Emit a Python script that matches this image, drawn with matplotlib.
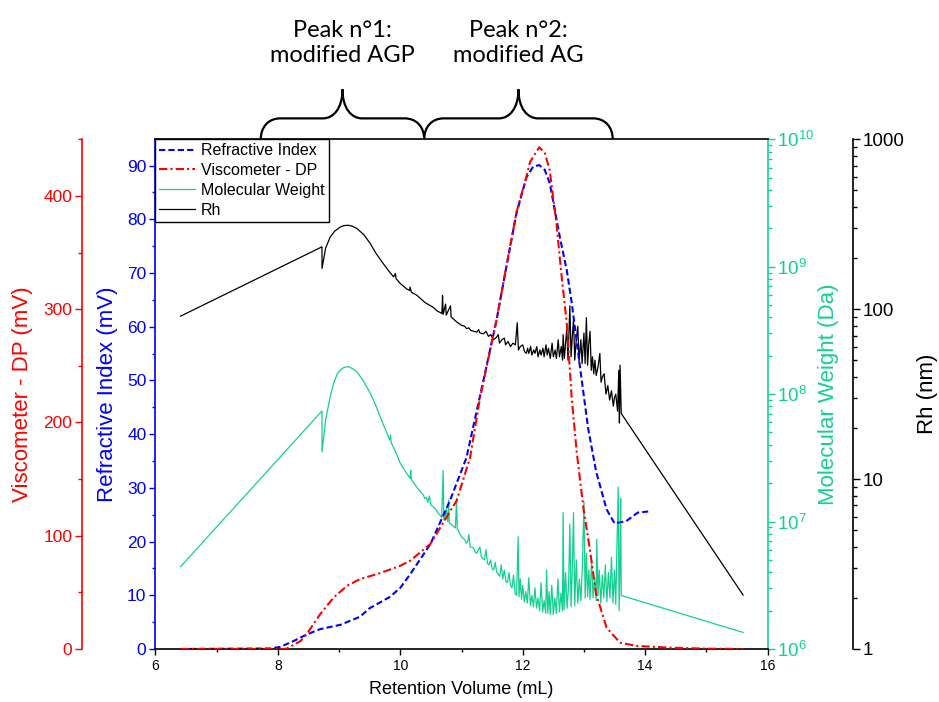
import matplotlib
matplotlib.use("Agg")
import matplotlib.pyplot as plt
import numpy as np
from matplotlib.path import Path
from matplotlib.patches import PathPatch
from matplotlib.transforms import blended_transform_factory
from matplotlib.ticker import MultipleLocator, LogLocator, NullFormatter, FuncFormatter

plt.rcParams["font.family"] = ["Liberation Sans", "DejaVu Sans"]
plt.rcParams["mathtext.fontset"] = "custom"
plt.rcParams["mathtext.rm"] = "Liberation Sans"
plt.rcParams["mathtext.default"] = "regular"

BLUE = "#0000ff"
RED = "#ff0000"
GREEN = "#14d08f"
BLACK = "black"

# --- Refractive index (mV) ---
ri_x = [6.41, 7.88, 8.04, 8.26, 8.47, 8.69, 9.02, 9.34, 9.50, 9.83, 10.00, 10.16,
        10.49, 10.81, 11.08, 11.30, 11.57, 11.74, 11.90, 12.06, 12.17, 12.27,
        12.36, 12.44, 12.61, 12.72, 12.80, 12.93, 13.07, 13.20, 13.37, 13.50,
        13.69, 13.88, 14.05]
ri_mv = [0.0, 0.1, 0.4, 1.5, 2.7, 3.7, 4.5, 6.0, 7.6, 9.7, 11.4, 13.9,
         19.5, 27.6, 35.6, 47.0, 61.1, 71.6, 81.2, 87.8, 89.8, 90.1,
         89.2, 86.8, 76.5, 70.5, 64.5, 53.0, 41.0, 33.0, 26.0, 23.4,
         23.8, 25.4, 25.6]

# --- Viscometer DP (mV) ---
dp_x = [6.41, 8.10, 8.15, 8.37, 8.47, 8.69, 8.91, 9.13, 9.34, 9.67, 10.00, 10.16,
        10.49, 10.92, 11.14, 11.30, 11.57, 11.74, 11.90, 12.06, 12.12, 12.27,
        12.36, 12.44, 12.55, 12.63, 12.72, 12.80, 12.88, 12.99, 13.10, 13.20,
        13.37, 13.59, 13.86, 14.40, 15.00, 15.60]
dp_mv = [0.0, 0.0, 0.5, 7.0, 13.0, 30.7, 45.4, 55.8, 61.7, 67.0, 73.5, 77.9,
         92.7, 131.0, 169.0, 221.0, 290.0, 340.0, 386.0, 417.0, 430.0, 443.0,
         438.0, 423.0, 376.0, 332.0, 287.0, 222.0, 175.0, 125.0, 86.7, 48.4,
         18.8, 5.6, 2.7, 1.2, 0.3, 0.0]

# --- Molecular weight: (mL, log10 Da) ---
mw_points = [
    (6.41, 6.646), (8.72, 7.868), (8.721, 7.546), (8.78, 7.80), (8.855, 7.98),
    (8.91, 8.085), (8.97, 8.16), (9.02, 8.19), (9.08, 8.21), (9.15, 8.216),
    (9.22, 8.20), (9.29, 8.177), (9.40, 8.10), (9.51, 8.007), (9.60, 7.91),
    (9.67, 7.823), (9.75, 7.73), (9.83, 7.64), (9.84, 7.68), (9.85, 7.62),
    (9.92, 7.55), (10.00, 7.458), (10.10, 7.38), (10.16, 7.34), (10.17, 7.40),
    (10.18, 7.33), (10.27, 7.27), (10.300, 7.25), (10.325, 7.24), (10.350, 7.22),
    (10.375, 7.21), (10.400, 7.18), (10.425, 7.19), (10.450, 7.15), (10.475, 7.20),
    (10.500, 7.13), (10.525, 7.12), (10.550, 7.11), (10.575, 7.10), (10.600, 7.08),
    (10.625, 7.06), (10.650, 7.05), (10.675, 7.03), (10.700, 7.40), (10.710, 7.02),
    (10.725, 7.01), (10.750, 7.10), (10.775, 7.00), (10.790, 7.17), (10.800, 6.99),
    (10.825, 6.98), (10.850, 6.97), (10.875, 6.96), (10.900, 6.95), (10.920, 7.18),
    (10.930, 6.94), (10.950, 6.93), (10.975, 6.90), (11.000, 6.88), (11.025, 6.87),
    (11.050, 6.86), (11.075, 6.83), (11.100, 6.84), (11.120, 6.90), (11.140, 6.80),
    (11.175, 6.80), (11.200, 6.79), (11.225, 6.76), (11.250, 6.75), (11.275, 6.78),
    (11.300, 6.80), (11.325, 6.72), (11.350, 6.71), (11.375, 6.70), (11.400, 6.78),
    (11.425, 6.67), (11.450, 6.66), (11.475, 6.70), (11.500, 6.63), (11.525, 6.62),
    (11.550, 6.68), (11.575, 6.60), (11.600, 6.59), (11.625, 6.57), (11.650, 6.66),
    (11.675, 6.55), (11.700, 6.62), (11.725, 6.53), (11.750, 6.52), (11.775, 6.60),
    (11.800, 6.50), (11.825, 6.48), (11.850, 6.58), (11.875, 6.44), (11.900, 6.42),
    (11.925, 6.88), (11.940, 6.41), (11.960, 6.55), (11.980, 6.39), (12.000, 6.50),
    (12.025, 6.37), (12.050, 6.45), (12.075, 6.36), (12.100, 6.56), (12.125, 6.34),
    (12.150, 6.42), (12.175, 6.33), (12.200, 6.48), (12.225, 6.32), (12.250, 6.40),
    (12.275, 6.30), (12.300, 6.52), (12.325, 6.29), (12.350, 6.38), (12.375, 6.28),
    (12.390, 6.62), (12.410, 6.28), (12.430, 6.45), (12.450, 6.27), (12.475, 6.50),
    (12.500, 6.27), (12.525, 6.40), (12.550, 6.28), (12.575, 6.55), (12.600, 6.29),
    (12.625, 6.44), (12.650, 6.30), (12.660, 7.07), (12.675, 6.31), (12.700, 6.60),
    (12.725, 6.32), (12.750, 6.50), (12.770, 6.98), (12.790, 6.33), (12.810, 6.62),
    (12.830, 7.07), (12.850, 6.34), (12.875, 6.70), (12.900, 6.36), (12.925, 6.55),
    (12.950, 6.38), (12.975, 6.65), (13.000, 7.16), (13.020, 6.40), (13.040, 6.75),
    (13.060, 6.41), (13.080, 6.62), (13.100, 6.39), (13.125, 6.70), (13.150, 6.40),
    (13.175, 6.55), (13.200, 6.38), (13.210, 6.86), (13.230, 6.42), (13.250, 6.62),
    (13.275, 6.36), (13.300, 6.58), (13.325, 6.40), (13.350, 6.66), (13.375, 6.37),
    (13.400, 6.60), (13.425, 6.40), (13.450, 6.72), (13.475, 6.36), (13.500, 6.62),
    (13.520, 6.35), (13.540, 6.80), (13.560, 7.27), (13.575, 6.30), (13.590, 6.70),
    (13.600, 7.18), (13.610, 6.42), (15.600, 6.13),
]

# --- Hydrodynamic radius: (mL, log10 nm) ---
rh_points = [
    (6.41, 1.959), (8.72, 2.367), (8.721, 2.24), (8.78, 2.36), (8.855, 2.425),
    (8.93, 2.46), (9.02, 2.484), (9.08, 2.492), (9.15, 2.494), (9.22, 2.488),
    (9.29, 2.475), (9.40, 2.44), (9.51, 2.386), (9.60, 2.33), (9.72, 2.269),
    (9.80, 2.23), (9.89, 2.19), (9.92, 2.21), (9.93, 2.18), (10.00, 2.151),
    (10.10, 2.12), (10.15, 2.11), (10.16, 2.13), (10.18, 2.10), (10.27, 2.082),
    (10.40, 2.04), (10.54, 2.01), (10.60, 1.99), (10.68, 1.975), (10.69, 2.08),
    (10.70, 1.97), (10.74, 2.03), (10.75, 1.965), (10.82, 2.02), (10.83, 1.955),
    (10.92, 1.925), (11.000, 1.905), (11.050, 1.90), (11.080, 1.886), (11.120, 1.89),
    (11.150, 1.875), (11.200, 1.87), (11.250, 1.865), (11.280, 1.88), (11.300, 1.86),
    (11.360, 1.855), (11.400, 1.87), (11.440, 1.84), (11.480, 1.85), (11.520, 1.82),
    (11.560, 1.83), (11.600, 1.85), (11.620, 1.80), (11.660, 1.82), (11.700, 1.83),
    (11.720, 1.79), (11.760, 1.81), (11.800, 1.78), (11.840, 1.80), (11.880, 1.79),
    (11.910, 1.92), (11.930, 1.76), (11.960, 1.78), (12.000, 1.79), (12.030, 1.75),
    (12.060, 1.74), (12.080, 1.77), (12.100, 1.74), (12.130, 1.78), (12.150, 1.73),
    (12.180, 1.76), (12.200, 1.74), (12.230, 1.78), (12.250, 1.72), (12.280, 1.76),
    (12.300, 1.73), (12.330, 1.77), (12.350, 1.72), (12.380, 1.79), (12.400, 1.73),
    (12.420, 1.77), (12.450, 1.71), (12.480, 1.80), (12.500, 1.72), (12.530, 1.76),
    (12.550, 1.71), (12.580, 1.82), (12.600, 1.72), (12.630, 1.78), (12.650, 1.70),
    (12.660, 1.85), (12.680, 1.71), (12.700, 1.80), (12.720, 1.88), (12.740, 1.70),
    (12.770, 2.02), (12.790, 1.72), (12.810, 1.84), (12.830, 1.94), (12.850, 1.70),
    (12.870, 1.80), (12.900, 1.90), (12.920, 1.69), (12.950, 1.82), (12.970, 1.68),
    (13.000, 1.86), (13.020, 1.68), (13.040, 1.95), (13.060, 1.67), (13.080, 1.80),
    (13.100, 1.87), (13.120, 1.64), (13.140, 1.72), (13.160, 1.62), (13.180, 1.70),
    (13.200, 1.61), (13.230, 1.66), (13.260, 1.74), (13.280, 1.57), (13.300, 1.60),
    (13.330, 1.62), (13.360, 1.50), (13.390, 1.55), (13.420, 1.465), (13.450, 1.52),
    (13.480, 1.43), (13.500, 1.48), (13.520, 1.50), (13.550, 1.40), (13.570, 1.64),
    (13.580, 1.33), (13.590, 1.67), (13.610, 1.386), (15.600, 0.318),
]

# peak annotations: (start, end) in mL and text
peak_spans = [(7.72, 10.39), (10.39, 13.47)]
peak_labels = ["Peak n°1:\nmodified AGP", "Peak n°2:\nmodified AG"]


def draw_brace(ax, x0, x1, r=0.32, y0=1.0, yh=1.041, yt=1.098):
    trans = blended_transform_factory(ax.transData, ax.transAxes)
    xm = (x0 + x1) / 2
    verts = [(x0, y0), (x0, y0 + 0.6 * (yh - y0)), (x0 + 0.4 * r, yh), (x0 + r, yh),
             (xm - r, yh),
             (xm - 0.45 * r, yh), (xm, yh + 0.35 * (yt - yh)), (xm, yt),
             (xm, yh + 0.35 * (yt - yh)), (xm + 0.45 * r, yh), (xm + r, yh),
             (x1 - r, yh),
             (x1 - 0.4 * r, yh), (x1, y0 + 0.6 * (yh - y0)), (x1, y0)]
    codes = [Path.MOVETO, Path.CURVE4, Path.CURVE4, Path.CURVE4, Path.LINETO,
             Path.CURVE4, Path.CURVE4, Path.CURVE4, Path.CURVE4, Path.CURVE4, Path.CURVE4,
             Path.LINETO, Path.CURVE4, Path.CURVE4, Path.CURVE4]
    patch = PathPatch(Path(verts, codes), transform=trans, fill=False,
                      edgecolor="black", lw=1.6, clip_on=False)
    ax.add_patch(patch)
    return trans, xm


mw_x, mw_log10 = zip(*mw_points)
rh_x, rh_log10 = zip(*rh_points)

fig = plt.figure(figsize=(9.39, 7.02), dpi=100)
ax = fig.add_axes([0.1656, 0.0755, 0.6518, 0.7261])
ax_mw = ax.twinx()
ax_rh = ax.twinx()
ax_dp = ax.twinx()

ax_mw.set_zorder(1)
ax_rh.set_zorder(2)
ax.set_zorder(3)
ax_dp.set_zorder(4)
for a in (ax, ax_mw, ax_rh, ax_dp):
    a.patch.set_visible(False)

l_ri, = ax.plot(ri_x, ri_mv, color=BLUE, lw=1.5, ls=(0, (3, 1.5)), label="Refractive Index")
l_dp, = ax_dp.plot(dp_x, dp_mv, color=RED, lw=1.5, ls=(0, (4, 1.5, 1, 1.5)),
                   label="Viscometer - DP")
l_mw, = ax_mw.plot(mw_x, 10 ** np.array(mw_log10), color=GREEN, lw=0.9,
                   label="Molecular Weight")
l_rh, = ax_rh.plot(rh_x, 10 ** np.array(rh_log10), color=BLACK, lw=0.9, label="Rh")

# x axis
ax.set_xlim(6, 16)
ax.xaxis.set_major_locator(MultipleLocator(2))
ax.xaxis.set_minor_locator(MultipleLocator(1))
ax.tick_params(axis="x", which="major", direction="out", length=4, width=1,
               labelsize=10, colors="black", pad=3)
ax.tick_params(axis="x", which="minor", direction="out", length=2.5, width=1)
ax.set_xlabel("Retention Volume (mL)", fontsize=13, labelpad=6)

# refractive index (blue, left)
ax.set_ylim(0, 94.9)
ax.yaxis.set_major_locator(MultipleLocator(10))
ax.yaxis.set_minor_locator(MultipleLocator(5))
ax.tick_params(axis="y", which="both", direction="out", colors=BLUE, width=1)
ax.tick_params(axis="y", which="major", length=4.5, labelsize=12.5, pad=2)
ax.tick_params(axis="y", which="minor", length=2.5)
ax.set_ylabel("Refractive Index (mV)", color=BLUE, fontsize=16)
ax.spines["left"].set_color(BLUE)
ax.spines["right"].set_visible(False)
for s in ("top", "bottom"):
    ax.spines[s].set_color("black")
    ax.spines[s].set_linewidth(1.2)
ax.spines["left"].set_linewidth(1.2)

# viscometer (red, far left)
ax_dp.set_ylim(0, 450)
ax_dp.yaxis.tick_left()
ax_dp.yaxis.set_label_position("left")
ax_dp.spines["left"].set_position(("outward", 53))
ax_dp.spines["left"].set_color(RED)
ax_dp.spines["left"].set_linewidth(1.2)
for s in ("right", "top", "bottom"):
    ax_dp.spines[s].set_visible(False)
ax_dp.yaxis.set_major_locator(MultipleLocator(100))
ax_dp.yaxis.set_minor_locator(MultipleLocator(50))
ax_dp.tick_params(axis="y", which="both", direction="out", colors=RED, width=1)
ax_dp.tick_params(axis="y", which="major", length=5, labelsize=12.5, pad=2)
ax_dp.tick_params(axis="y", which="minor", length=3)
ax_dp.set_ylabel("Viscometer - DP (mV)", color=RED, fontsize=16)

# molecular weight (green, right)
ax_mw.set_yscale("log")
ax_mw.set_ylim(1e6, 1e10)
ax_mw.yaxis.set_major_locator(LogLocator(base=10, numticks=10))
ax_mw.yaxis.set_minor_locator(LogLocator(base=10, subs=np.arange(2, 10), numticks=20))
ax_mw.yaxis.set_minor_formatter(NullFormatter())
ax_mw.spines["right"].set_color(GREEN)
ax_mw.spines["right"].set_linewidth(1.2)
for s in ("left", "top", "bottom"):
    ax_mw.spines[s].set_visible(False)
ax_mw.tick_params(axis="y", which="both", direction="out", colors=GREEN, width=1)
ax_mw.tick_params(axis="y", which="major", length=5, labelsize=13.5, pad=2)
ax_mw.tick_params(axis="y", which="minor", length=3)
ax_mw.set_ylabel("Molecular Weight (Da)", color=GREEN, fontsize=16)

# Rh (black, far right)
ax_rh.set_yscale("log")
ax_rh.set_ylim(1, 1000)
ax_rh.spines["right"].set_position(("outward", 61.5))
ax_rh.spines["right"].set_linewidth(1.2)
for s in ("left", "top", "bottom"):
    ax_rh.spines[s].set_visible(False)
ax_rh.yaxis.set_major_locator(LogLocator(base=10, numticks=10))
ax_rh.yaxis.set_minor_locator(LogLocator(base=10, subs=np.arange(2, 10), numticks=20))
ax_rh.yaxis.set_major_formatter(FuncFormatter(lambda v, p: f"{v:g}"))
ax_rh.yaxis.set_minor_formatter(NullFormatter())
ax_rh.tick_params(axis="y", which="both", direction="out", colors="black", width=1)
ax_rh.tick_params(axis="y", which="major", length=5, labelsize=13.5, pad=2)
ax_rh.tick_params(axis="y", which="minor", length=3)
ax_rh.set_ylabel("Rh (nm)", color="black", fontsize=16)

# axis label placement
for a, xc in ((ax, -0.0792), (ax_dp, -0.2165), (ax_mw, 1.0989), (ax_rh, 1.2606)):
    a.yaxis.set_label_coords(xc, 0.5)
    a.yaxis.label.set_verticalalignment("center")
    a.yaxis.label.set_horizontalalignment("center")

# legend
leg = ax_dp.legend(handles=[l_ri, l_dp, l_mw, l_rh], loc="upper left",
                   bbox_to_anchor=(0, 1), borderaxespad=0, fontsize=11.5,
                   handlelength=2.2, labelspacing=0.3, borderpad=0.25,
                   handletextpad=0.4, fancybox=False, framealpha=1,
                   edgecolor="black")
leg.get_frame().set_linewidth(1.0)

# peak braces and labels
for (x0, x1), txt in zip(peak_spans, peak_labels):
    trans, xm = draw_brace(ax_dp, x0, x1)
    ax_dp.text(xm, 1.189, txt, transform=trans, ha="center", va="center",
               fontsize=17, family="Lato", linespacing=1.25)

fig.savefig("out.png", dpi=100)
